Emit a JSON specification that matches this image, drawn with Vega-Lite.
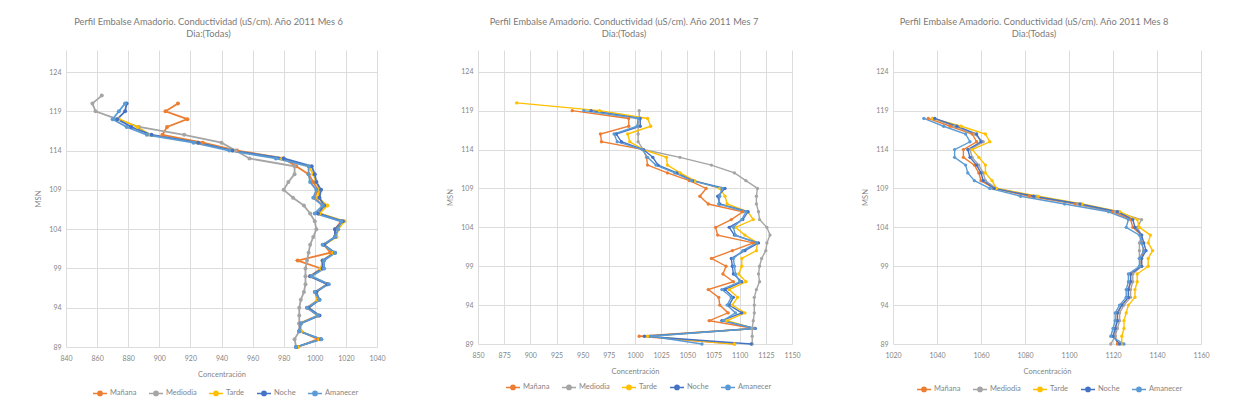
{
  "$schema": "https://vega.github.io/schema/vega-lite/v6.json",
  "background": "white",
  "padding": {"left": 34, "top": 18, "right": 4, "bottom": 4},
  "spacing": 60,
  "config": {
    "font": "Lato",
    "view": {"stroke": null},
    "axis": {
      "domain": false,
      "ticks": false,
      "gridColor": "#DCDCDC",
      "gridWidth": 1,
      "labelColor": "#858585",
      "labelFontSize": 7,
      "labelPadding": 5,
      "labelOverlap": false,
      "labelFlush": false,
      "format": "d",
      "titleColor": "#858585",
      "titleFontSize": 7.5,
      "titleFontWeight": "normal",
      "titlePadding": 6
    },
    "axisX": {"labelPadding": 7, "titlePadding": 9},
    "title": {"fontSize": 9.3, "fontWeight": "normal", "color": "#7a7a7a", "lineHeight": 11.5, "offset": 11, "anchor": "middle"},
    "legend": {
      "labelFontSize": 7.5,
      "labelColor": "#858585",
      "symbolType": "M-1,0H1M-0.3,0A0.3,0.3,0,1,1,0.3,0A0.3,0.3,0,1,1,-0.3,0Z",
      "symbolSize": 196,
      "symbolStrokeWidth": 1.5,
      "columnPadding": 9,
      "labelOffset": 2
    }
  },
  "data": {
    "values": [
      {"mes": 6, "serie": "Mañana", "msn": 120, "c": 912},
      {"mes": 6, "serie": "Mañana", "msn": 119, "c": 904},
      {"mes": 6, "serie": "Mañana", "msn": 118, "c": 918},
      {"mes": 6, "serie": "Mañana", "msn": 117, "c": 905},
      {"mes": 6, "serie": "Mañana", "msn": 116, "c": 902},
      {"mes": 6, "serie": "Mañana", "msn": 115, "c": 928},
      {"mes": 6, "serie": "Mañana", "msn": 114, "c": 950},
      {"mes": 6, "serie": "Mañana", "msn": 113, "c": 980},
      {"mes": 6, "serie": "Mañana", "msn": 112, "c": 988},
      {"mes": 6, "serie": "Mañana", "msn": 111, "c": 996},
      {"mes": 6, "serie": "Mañana", "msn": 110, "c": 999},
      {"mes": 6, "serie": "Mañana", "msn": 109, "c": 1002},
      {"mes": 6, "serie": "Mañana", "msn": 108, "c": 1000},
      {"mes": 6, "serie": "Mañana", "msn": 107, "c": 1005},
      {"mes": 6, "serie": "Mañana", "msn": 106, "c": 1003},
      {"mes": 6, "serie": "Mañana", "msn": 105, "c": 1017},
      {"mes": 6, "serie": "Mañana", "msn": 104, "c": 1013},
      {"mes": 6, "serie": "Mañana", "msn": 103, "c": 1013},
      {"mes": 6, "serie": "Mañana", "msn": 102, "c": 1006},
      {"mes": 6, "serie": "Mañana", "msn": 101, "c": 1010},
      {"mes": 6, "serie": "Mañana", "msn": 100, "c": 989},
      {"mes": 6, "serie": "Mañana", "msn": 99, "c": 1004},
      {"mes": 6, "serie": "Mañana", "msn": 98, "c": 997},
      {"mes": 6, "serie": "Mañana", "msn": 97, "c": 1008},
      {"mes": 6, "serie": "Mañana", "msn": 96, "c": 1000},
      {"mes": 6, "serie": "Mañana", "msn": 95, "c": 1002},
      {"mes": 6, "serie": "Mañana", "msn": 94, "c": 995},
      {"mes": 6, "serie": "Mañana", "msn": 93, "c": 1002},
      {"mes": 6, "serie": "Mañana", "msn": 92, "c": 990},
      {"mes": 6, "serie": "Mañana", "msn": 91, "c": 991},
      {"mes": 6, "serie": "Mañana", "msn": 90, "c": 1002},
      {"mes": 6, "serie": "Mañana", "msn": 89, "c": 989},
      {"mes": 6, "serie": "Mediodia", "msn": 121, "c": 863},
      {"mes": 6, "serie": "Mediodia", "msn": 120, "c": 857},
      {"mes": 6, "serie": "Mediodia", "msn": 119, "c": 859},
      {"mes": 6, "serie": "Mediodia", "msn": 118, "c": 873},
      {"mes": 6, "serie": "Mediodia", "msn": 117, "c": 887},
      {"mes": 6, "serie": "Mediodia", "msn": 116, "c": 916},
      {"mes": 6, "serie": "Mediodia", "msn": 115, "c": 940},
      {"mes": 6, "serie": "Mediodia", "msn": 114, "c": 949},
      {"mes": 6, "serie": "Mediodia", "msn": 113, "c": 958},
      {"mes": 6, "serie": "Mediodia", "msn": 112, "c": 987},
      {"mes": 6, "serie": "Mediodia", "msn": 111, "c": 987},
      {"mes": 6, "serie": "Mediodia", "msn": 110, "c": 983},
      {"mes": 6, "serie": "Mediodia", "msn": 109, "c": 980},
      {"mes": 6, "serie": "Mediodia", "msn": 108, "c": 986},
      {"mes": 6, "serie": "Mediodia", "msn": 107, "c": 993},
      {"mes": 6, "serie": "Mediodia", "msn": 106, "c": 997},
      {"mes": 6, "serie": "Mediodia", "msn": 105, "c": 1000},
      {"mes": 6, "serie": "Mediodia", "msn": 104, "c": 1001},
      {"mes": 6, "serie": "Mediodia", "msn": 103, "c": 999},
      {"mes": 6, "serie": "Mediodia", "msn": 102, "c": 997},
      {"mes": 6, "serie": "Mediodia", "msn": 101, "c": 996},
      {"mes": 6, "serie": "Mediodia", "msn": 100, "c": 995},
      {"mes": 6, "serie": "Mediodia", "msn": 99, "c": 994},
      {"mes": 6, "serie": "Mediodia", "msn": 98, "c": 994},
      {"mes": 6, "serie": "Mediodia", "msn": 97, "c": 994},
      {"mes": 6, "serie": "Mediodia", "msn": 96, "c": 993},
      {"mes": 6, "serie": "Mediodia", "msn": 95, "c": 991},
      {"mes": 6, "serie": "Mediodia", "msn": 94, "c": 990},
      {"mes": 6, "serie": "Mediodia", "msn": 93, "c": 990},
      {"mes": 6, "serie": "Mediodia", "msn": 92, "c": 990},
      {"mes": 6, "serie": "Mediodia", "msn": 91, "c": 990},
      {"mes": 6, "serie": "Mediodia", "msn": 90, "c": 987},
      {"mes": 6, "serie": "Mediodia", "msn": 89, "c": 988},
      {"mes": 6, "serie": "Tarde", "msn": 118, "c": 874},
      {"mes": 6, "serie": "Tarde", "msn": 117, "c": 886},
      {"mes": 6, "serie": "Tarde", "msn": 116, "c": 894},
      {"mes": 6, "serie": "Tarde", "msn": 115, "c": 925},
      {"mes": 6, "serie": "Tarde", "msn": 114, "c": 947},
      {"mes": 6, "serie": "Tarde", "msn": 113, "c": 979},
      {"mes": 6, "serie": "Tarde", "msn": 112, "c": 996},
      {"mes": 6, "serie": "Tarde", "msn": 111, "c": 999},
      {"mes": 6, "serie": "Tarde", "msn": 110, "c": 1001},
      {"mes": 6, "serie": "Tarde", "msn": 109, "c": 1003},
      {"mes": 6, "serie": "Tarde", "msn": 108, "c": 1002},
      {"mes": 6, "serie": "Tarde", "msn": 107, "c": 1008},
      {"mes": 6, "serie": "Tarde", "msn": 106, "c": 1003},
      {"mes": 6, "serie": "Tarde", "msn": 105, "c": 1019},
      {"mes": 6, "serie": "Tarde", "msn": 104, "c": 1015},
      {"mes": 6, "serie": "Tarde", "msn": 103, "c": 1014},
      {"mes": 6, "serie": "Tarde", "msn": 102, "c": 1006},
      {"mes": 6, "serie": "Tarde", "msn": 101, "c": 1012},
      {"mes": 6, "serie": "Tarde", "msn": 100, "c": 1005},
      {"mes": 6, "serie": "Tarde", "msn": 99, "c": 1004},
      {"mes": 6, "serie": "Tarde", "msn": 98, "c": 998},
      {"mes": 6, "serie": "Tarde", "msn": 97, "c": 1008},
      {"mes": 6, "serie": "Tarde", "msn": 96, "c": 1001},
      {"mes": 6, "serie": "Tarde", "msn": 95, "c": 1002},
      {"mes": 6, "serie": "Tarde", "msn": 94, "c": 996},
      {"mes": 6, "serie": "Tarde", "msn": 93, "c": 1002},
      {"mes": 6, "serie": "Tarde", "msn": 92, "c": 991},
      {"mes": 6, "serie": "Tarde", "msn": 91, "c": 991},
      {"mes": 6, "serie": "Tarde", "msn": 90, "c": 1003},
      {"mes": 6, "serie": "Tarde", "msn": 89, "c": 989},
      {"mes": 6, "serie": "Noche", "msn": 120, "c": 879},
      {"mes": 6, "serie": "Noche", "msn": 119, "c": 878},
      {"mes": 6, "serie": "Noche", "msn": 118, "c": 873},
      {"mes": 6, "serie": "Noche", "msn": 117, "c": 882},
      {"mes": 6, "serie": "Noche", "msn": 116, "c": 895},
      {"mes": 6, "serie": "Noche", "msn": 115, "c": 925},
      {"mes": 6, "serie": "Noche", "msn": 114, "c": 947},
      {"mes": 6, "serie": "Noche", "msn": 113, "c": 980},
      {"mes": 6, "serie": "Noche", "msn": 112, "c": 998},
      {"mes": 6, "serie": "Noche", "msn": 111, "c": 1000},
      {"mes": 6, "serie": "Noche", "msn": 110, "c": 1001},
      {"mes": 6, "serie": "Noche", "msn": 109, "c": 1004},
      {"mes": 6, "serie": "Noche", "msn": 108, "c": 1003},
      {"mes": 6, "serie": "Noche", "msn": 107, "c": 1006},
      {"mes": 6, "serie": "Noche", "msn": 106, "c": 1002},
      {"mes": 6, "serie": "Noche", "msn": 105, "c": 1018},
      {"mes": 6, "serie": "Noche", "msn": 104, "c": 1013},
      {"mes": 6, "serie": "Noche", "msn": 103, "c": 1013},
      {"mes": 6, "serie": "Noche", "msn": 102, "c": 1006},
      {"mes": 6, "serie": "Noche", "msn": 101, "c": 1013},
      {"mes": 6, "serie": "Noche", "msn": 100, "c": 1005},
      {"mes": 6, "serie": "Noche", "msn": 99, "c": 1005},
      {"mes": 6, "serie": "Noche", "msn": 98, "c": 997},
      {"mes": 6, "serie": "Noche", "msn": 97, "c": 1008},
      {"mes": 6, "serie": "Noche", "msn": 96, "c": 1001},
      {"mes": 6, "serie": "Noche", "msn": 95, "c": 1003},
      {"mes": 6, "serie": "Noche", "msn": 94, "c": 996},
      {"mes": 6, "serie": "Noche", "msn": 93, "c": 1003},
      {"mes": 6, "serie": "Noche", "msn": 92, "c": 991},
      {"mes": 6, "serie": "Noche", "msn": 91, "c": 990},
      {"mes": 6, "serie": "Noche", "msn": 90, "c": 1004},
      {"mes": 6, "serie": "Noche", "msn": 89, "c": 988},
      {"mes": 6, "serie": "Amanecer", "msn": 120, "c": 878},
      {"mes": 6, "serie": "Amanecer", "msn": 119, "c": 874},
      {"mes": 6, "serie": "Amanecer", "msn": 118, "c": 870},
      {"mes": 6, "serie": "Amanecer", "msn": 117, "c": 879},
      {"mes": 6, "serie": "Amanecer", "msn": 116, "c": 892},
      {"mes": 6, "serie": "Amanecer", "msn": 115, "c": 922},
      {"mes": 6, "serie": "Amanecer", "msn": 114, "c": 945},
      {"mes": 6, "serie": "Amanecer", "msn": 113, "c": 975},
      {"mes": 6, "serie": "Amanecer", "msn": 112, "c": 996},
      {"mes": 6, "serie": "Amanecer", "msn": 111, "c": 996},
      {"mes": 6, "serie": "Amanecer", "msn": 110, "c": 997},
      {"mes": 6, "serie": "Amanecer", "msn": 109, "c": 1001},
      {"mes": 6, "serie": "Amanecer", "msn": 108, "c": 999},
      {"mes": 6, "serie": "Amanecer", "msn": 107, "c": 1005},
      {"mes": 6, "serie": "Amanecer", "msn": 106, "c": 1000},
      {"mes": 6, "serie": "Amanecer", "msn": 105, "c": 1017},
      {"mes": 6, "serie": "Amanecer", "msn": 104, "c": 1015},
      {"mes": 6, "serie": "Amanecer", "msn": 103, "c": 1013},
      {"mes": 6, "serie": "Amanecer", "msn": 102, "c": 1005},
      {"mes": 6, "serie": "Amanecer", "msn": 101, "c": 1013},
      {"mes": 6, "serie": "Amanecer", "msn": 100, "c": 1006},
      {"mes": 6, "serie": "Amanecer", "msn": 99, "c": 1006},
      {"mes": 6, "serie": "Amanecer", "msn": 98, "c": 998},
      {"mes": 6, "serie": "Amanecer", "msn": 97, "c": 1009},
      {"mes": 6, "serie": "Amanecer", "msn": 96, "c": 1000},
      {"mes": 6, "serie": "Amanecer", "msn": 95, "c": 1003},
      {"mes": 6, "serie": "Amanecer", "msn": 94, "c": 995},
      {"mes": 6, "serie": "Amanecer", "msn": 93, "c": 1002},
      {"mes": 6, "serie": "Amanecer", "msn": 92, "c": 991},
      {"mes": 6, "serie": "Amanecer", "msn": 91, "c": 990},
      {"mes": 6, "serie": "Amanecer", "msn": 90, "c": 1004},
      {"mes": 6, "serie": "Amanecer", "msn": 89, "c": 988},

      {"mes": 7, "serie": "Mañana", "msn": 119, "c": 940},
      {"mes": 7, "serie": "Mañana", "msn": 118, "c": 994},
      {"mes": 7, "serie": "Mañana", "msn": 117, "c": 994},
      {"mes": 7, "serie": "Mañana", "msn": 116, "c": 967},
      {"mes": 7, "serie": "Mañana", "msn": 115, "c": 968},
      {"mes": 7, "serie": "Mañana", "msn": 114, "c": 1008},
      {"mes": 7, "serie": "Mañana", "msn": 113, "c": 1011},
      {"mes": 7, "serie": "Mañana", "msn": 112, "c": 1012},
      {"mes": 7, "serie": "Mañana", "msn": 111, "c": 1031},
      {"mes": 7, "serie": "Mañana", "msn": 110, "c": 1052},
      {"mes": 7, "serie": "Mañana", "msn": 109, "c": 1068},
      {"mes": 7, "serie": "Mañana", "msn": 108, "c": 1062},
      {"mes": 7, "serie": "Mañana", "msn": 107, "c": 1070},
      {"mes": 7, "serie": "Mañana", "msn": 106, "c": 1103},
      {"mes": 7, "serie": "Mañana", "msn": 105, "c": 1092},
      {"mes": 7, "serie": "Mañana", "msn": 104, "c": 1077},
      {"mes": 7, "serie": "Mañana", "msn": 103, "c": 1079},
      {"mes": 7, "serie": "Mañana", "msn": 102, "c": 1113},
      {"mes": 7, "serie": "Mañana", "msn": 101, "c": 1093},
      {"mes": 7, "serie": "Mañana", "msn": 100, "c": 1073},
      {"mes": 7, "serie": "Mañana", "msn": 99, "c": 1087},
      {"mes": 7, "serie": "Mañana", "msn": 98, "c": 1084},
      {"mes": 7, "serie": "Mañana", "msn": 97, "c": 1094},
      {"mes": 7, "serie": "Mañana", "msn": 96, "c": 1070},
      {"mes": 7, "serie": "Mañana", "msn": 95, "c": 1080},
      {"mes": 7, "serie": "Mañana", "msn": 94, "c": 1081},
      {"mes": 7, "serie": "Mañana", "msn": 93, "c": 1089},
      {"mes": 7, "serie": "Mañana", "msn": 92, "c": 1071},
      {"mes": 7, "serie": "Mañana", "msn": 91, "c": 1114},
      {"mes": 7, "serie": "Mañana", "msn": 90, "c": 1004},
      {"mes": 7, "serie": "Mañana", "msn": 89, "c": 1095},
      {"mes": 7, "serie": "Mediodia", "msn": 119, "c": 1004},
      {"mes": 7, "serie": "Mediodia", "msn": 118, "c": 1004},
      {"mes": 7, "serie": "Mediodia", "msn": 117, "c": 1003},
      {"mes": 7, "serie": "Mediodia", "msn": 116, "c": 1003},
      {"mes": 7, "serie": "Mediodia", "msn": 115, "c": 1003},
      {"mes": 7, "serie": "Mediodia", "msn": 114, "c": 1008},
      {"mes": 7, "serie": "Mediodia", "msn": 113, "c": 1043},
      {"mes": 7, "serie": "Mediodia", "msn": 112, "c": 1073},
      {"mes": 7, "serie": "Mediodia", "msn": 111, "c": 1095},
      {"mes": 7, "serie": "Mediodia", "msn": 110, "c": 1106},
      {"mes": 7, "serie": "Mediodia", "msn": 109, "c": 1117},
      {"mes": 7, "serie": "Mediodia", "msn": 108, "c": 1116},
      {"mes": 7, "serie": "Mediodia", "msn": 107, "c": 1116},
      {"mes": 7, "serie": "Mediodia", "msn": 106, "c": 1118},
      {"mes": 7, "serie": "Mediodia", "msn": 105, "c": 1119},
      {"mes": 7, "serie": "Mediodia", "msn": 104, "c": 1126},
      {"mes": 7, "serie": "Mediodia", "msn": 103, "c": 1129},
      {"mes": 7, "serie": "Mediodia", "msn": 102, "c": 1126},
      {"mes": 7, "serie": "Mediodia", "msn": 101, "c": 1125},
      {"mes": 7, "serie": "Mediodia", "msn": 100, "c": 1121},
      {"mes": 7, "serie": "Mediodia", "msn": 99, "c": 1119},
      {"mes": 7, "serie": "Mediodia", "msn": 98, "c": 1118},
      {"mes": 7, "serie": "Mediodia", "msn": 97, "c": 1119},
      {"mes": 7, "serie": "Mediodia", "msn": 96, "c": 1116},
      {"mes": 7, "serie": "Mediodia", "msn": 95, "c": 1114},
      {"mes": 7, "serie": "Mediodia", "msn": 94, "c": 1114},
      {"mes": 7, "serie": "Mediodia", "msn": 93, "c": 1114},
      {"mes": 7, "serie": "Mediodia", "msn": 92, "c": 1113},
      {"mes": 7, "serie": "Mediodia", "msn": 91, "c": 1112},
      {"mes": 7, "serie": "Mediodia", "msn": 90, "c": 1112},
      {"mes": 7, "serie": "Mediodia", "msn": 89, "c": 1112},
      {"mes": 7, "serie": "Tarde", "msn": 120, "c": 887},
      {"mes": 7, "serie": "Tarde", "msn": 119, "c": 966},
      {"mes": 7, "serie": "Tarde", "msn": 118, "c": 1012},
      {"mes": 7, "serie": "Tarde", "msn": 117, "c": 1015},
      {"mes": 7, "serie": "Tarde", "msn": 116, "c": 993},
      {"mes": 7, "serie": "Tarde", "msn": 115, "c": 995},
      {"mes": 7, "serie": "Tarde", "msn": 114, "c": 1008},
      {"mes": 7, "serie": "Tarde", "msn": 113, "c": 1030},
      {"mes": 7, "serie": "Tarde", "msn": 112, "c": 1031},
      {"mes": 7, "serie": "Tarde", "msn": 111, "c": 1043},
      {"mes": 7, "serie": "Tarde", "msn": 110, "c": 1057},
      {"mes": 7, "serie": "Tarde", "msn": 109, "c": 1081},
      {"mes": 7, "serie": "Tarde", "msn": 108, "c": 1086},
      {"mes": 7, "serie": "Tarde", "msn": 107, "c": 1088},
      {"mes": 7, "serie": "Tarde", "msn": 106, "c": 1108},
      {"mes": 7, "serie": "Tarde", "msn": 105, "c": 1113},
      {"mes": 7, "serie": "Tarde", "msn": 104, "c": 1096},
      {"mes": 7, "serie": "Tarde", "msn": 103, "c": 1105},
      {"mes": 7, "serie": "Tarde", "msn": 102, "c": 1117},
      {"mes": 7, "serie": "Tarde", "msn": 101, "c": 1116},
      {"mes": 7, "serie": "Tarde", "msn": 100, "c": 1102},
      {"mes": 7, "serie": "Tarde", "msn": 99, "c": 1102},
      {"mes": 7, "serie": "Tarde", "msn": 98, "c": 1099},
      {"mes": 7, "serie": "Tarde", "msn": 97, "c": 1106},
      {"mes": 7, "serie": "Tarde", "msn": 96, "c": 1090},
      {"mes": 7, "serie": "Tarde", "msn": 95, "c": 1098},
      {"mes": 7, "serie": "Tarde", "msn": 94, "c": 1093},
      {"mes": 7, "serie": "Tarde", "msn": 93, "c": 1105},
      {"mes": 7, "serie": "Tarde", "msn": 92, "c": 1088},
      {"mes": 7, "serie": "Tarde", "msn": 91, "c": 1114},
      {"mes": 7, "serie": "Tarde", "msn": 90, "c": 1012},
      {"mes": 7, "serie": "Tarde", "msn": 89, "c": 1095},
      {"mes": 7, "serie": "Noche", "msn": 119, "c": 958},
      {"mes": 7, "serie": "Noche", "msn": 118, "c": 1005},
      {"mes": 7, "serie": "Noche", "msn": 117, "c": 1005},
      {"mes": 7, "serie": "Noche", "msn": 116, "c": 982},
      {"mes": 7, "serie": "Noche", "msn": 115, "c": 987},
      {"mes": 7, "serie": "Noche", "msn": 114, "c": 1008},
      {"mes": 7, "serie": "Noche", "msn": 113, "c": 1017},
      {"mes": 7, "serie": "Noche", "msn": 112, "c": 1022},
      {"mes": 7, "serie": "Noche", "msn": 111, "c": 1040},
      {"mes": 7, "serie": "Noche", "msn": 110, "c": 1055},
      {"mes": 7, "serie": "Noche", "msn": 109, "c": 1086},
      {"mes": 7, "serie": "Noche", "msn": 108, "c": 1079},
      {"mes": 7, "serie": "Noche", "msn": 107, "c": 1081},
      {"mes": 7, "serie": "Noche", "msn": 106, "c": 1108},
      {"mes": 7, "serie": "Noche", "msn": 105, "c": 1103},
      {"mes": 7, "serie": "Noche", "msn": 104, "c": 1090},
      {"mes": 7, "serie": "Noche", "msn": 103, "c": 1095},
      {"mes": 7, "serie": "Noche", "msn": 102, "c": 1118},
      {"mes": 7, "serie": "Noche", "msn": 101, "c": 1105},
      {"mes": 7, "serie": "Noche", "msn": 100, "c": 1092},
      {"mes": 7, "serie": "Noche", "msn": 99, "c": 1093},
      {"mes": 7, "serie": "Noche", "msn": 98, "c": 1094},
      {"mes": 7, "serie": "Noche", "msn": 97, "c": 1102},
      {"mes": 7, "serie": "Noche", "msn": 96, "c": 1086},
      {"mes": 7, "serie": "Noche", "msn": 95, "c": 1094},
      {"mes": 7, "serie": "Noche", "msn": 94, "c": 1090},
      {"mes": 7, "serie": "Noche", "msn": 93, "c": 1102},
      {"mes": 7, "serie": "Noche", "msn": 92, "c": 1083},
      {"mes": 7, "serie": "Noche", "msn": 91, "c": 1115},
      {"mes": 7, "serie": "Noche", "msn": 90, "c": 1009},
      {"mes": 7, "serie": "Noche", "msn": 89, "c": 1111},
      {"mes": 7, "serie": "Amanecer", "msn": 119, "c": 951},
      {"mes": 7, "serie": "Amanecer", "msn": 118, "c": 1003},
      {"mes": 7, "serie": "Amanecer", "msn": 117, "c": 1002},
      {"mes": 7, "serie": "Amanecer", "msn": 116, "c": 980},
      {"mes": 7, "serie": "Amanecer", "msn": 115, "c": 983},
      {"mes": 7, "serie": "Amanecer", "msn": 114, "c": 1007},
      {"mes": 7, "serie": "Amanecer", "msn": 113, "c": 1012},
      {"mes": 7, "serie": "Amanecer", "msn": 112, "c": 1020},
      {"mes": 7, "serie": "Amanecer", "msn": 111, "c": 1038},
      {"mes": 7, "serie": "Amanecer", "msn": 110, "c": 1054},
      {"mes": 7, "serie": "Amanecer", "msn": 109, "c": 1083},
      {"mes": 7, "serie": "Amanecer", "msn": 108, "c": 1081},
      {"mes": 7, "serie": "Amanecer", "msn": 107, "c": 1080},
      {"mes": 7, "serie": "Amanecer", "msn": 106, "c": 1106},
      {"mes": 7, "serie": "Amanecer", "msn": 105, "c": 1102},
      {"mes": 7, "serie": "Amanecer", "msn": 104, "c": 1094},
      {"mes": 7, "serie": "Amanecer", "msn": 103, "c": 1096},
      {"mes": 7, "serie": "Amanecer", "msn": 102, "c": 1116},
      {"mes": 7, "serie": "Amanecer", "msn": 101, "c": 1103},
      {"mes": 7, "serie": "Amanecer", "msn": 100, "c": 1094},
      {"mes": 7, "serie": "Amanecer", "msn": 99, "c": 1095},
      {"mes": 7, "serie": "Amanecer", "msn": 98, "c": 1096},
      {"mes": 7, "serie": "Amanecer", "msn": 97, "c": 1100},
      {"mes": 7, "serie": "Amanecer", "msn": 96, "c": 1083},
      {"mes": 7, "serie": "Amanecer", "msn": 95, "c": 1092},
      {"mes": 7, "serie": "Amanecer", "msn": 94, "c": 1088},
      {"mes": 7, "serie": "Amanecer", "msn": 93, "c": 1096},
      {"mes": 7, "serie": "Amanecer", "msn": 92, "c": 1084},
      {"mes": 7, "serie": "Amanecer", "msn": 91, "c": 1114},
      {"mes": 7, "serie": "Amanecer", "msn": 90, "c": 1015},
      {"mes": 7, "serie": "Amanecer", "msn": 89, "c": 1064},

      {"mes": 8, "serie": "Mañana", "msn": 118, "c": 1036},
      {"mes": 8, "serie": "Mañana", "msn": 117, "c": 1046},
      {"mes": 8, "serie": "Mañana", "msn": 116, "c": 1056},
      {"mes": 8, "serie": "Mañana", "msn": 115, "c": 1058},
      {"mes": 8, "serie": "Mañana", "msn": 114, "c": 1052},
      {"mes": 8, "serie": "Mañana", "msn": 113, "c": 1052},
      {"mes": 8, "serie": "Mañana", "msn": 112, "c": 1057},
      {"mes": 8, "serie": "Mañana", "msn": 111, "c": 1059},
      {"mes": 8, "serie": "Mañana", "msn": 110, "c": 1060},
      {"mes": 8, "serie": "Mañana", "msn": 109, "c": 1066},
      {"mes": 8, "serie": "Mañana", "msn": 108, "c": 1082},
      {"mes": 8, "serie": "Mañana", "msn": 107, "c": 1103},
      {"mes": 8, "serie": "Mañana", "msn": 106, "c": 1120},
      {"mes": 8, "serie": "Mañana", "msn": 105, "c": 1128},
      {"mes": 8, "serie": "Mañana", "msn": 104, "c": 1129},
      {"mes": 8, "serie": "Mañana", "msn": 103, "c": 1133},
      {"mes": 8, "serie": "Mañana", "msn": 102, "c": 1133},
      {"mes": 8, "serie": "Mañana", "msn": 101, "c": 1134},
      {"mes": 8, "serie": "Mañana", "msn": 100, "c": 1133},
      {"mes": 8, "serie": "Mañana", "msn": 99, "c": 1133},
      {"mes": 8, "serie": "Mañana", "msn": 98, "c": 1128},
      {"mes": 8, "serie": "Mañana", "msn": 97, "c": 1128},
      {"mes": 8, "serie": "Mañana", "msn": 96, "c": 1127},
      {"mes": 8, "serie": "Mañana", "msn": 95, "c": 1127},
      {"mes": 8, "serie": "Mañana", "msn": 94, "c": 1124},
      {"mes": 8, "serie": "Mañana", "msn": 93, "c": 1122},
      {"mes": 8, "serie": "Mañana", "msn": 92, "c": 1122},
      {"mes": 8, "serie": "Mañana", "msn": 91, "c": 1121},
      {"mes": 8, "serie": "Mañana", "msn": 90, "c": 1121},
      {"mes": 8, "serie": "Mañana", "msn": 89, "c": 1122},
      {"mes": 8, "serie": "Mediodia", "msn": 118, "c": 1038},
      {"mes": 8, "serie": "Mediodia", "msn": 117, "c": 1048},
      {"mes": 8, "serie": "Mediodia", "msn": 116, "c": 1057},
      {"mes": 8, "serie": "Mediodia", "msn": 115, "c": 1061},
      {"mes": 8, "serie": "Mediodia", "msn": 114, "c": 1055},
      {"mes": 8, "serie": "Mediodia", "msn": 113, "c": 1056},
      {"mes": 8, "serie": "Mediodia", "msn": 112, "c": 1059},
      {"mes": 8, "serie": "Mediodia", "msn": 111, "c": 1061},
      {"mes": 8, "serie": "Mediodia", "msn": 110, "c": 1062},
      {"mes": 8, "serie": "Mediodia", "msn": 109, "c": 1067},
      {"mes": 8, "serie": "Mediodia", "msn": 108, "c": 1085},
      {"mes": 8, "serie": "Mediodia", "msn": 107, "c": 1104},
      {"mes": 8, "serie": "Mediodia", "msn": 106, "c": 1121},
      {"mes": 8, "serie": "Mediodia", "msn": 105, "c": 1133},
      {"mes": 8, "serie": "Mediodia", "msn": 104, "c": 1131},
      {"mes": 8, "serie": "Mediodia", "msn": 103, "c": 1133},
      {"mes": 8, "serie": "Mediodia", "msn": 102, "c": 1132},
      {"mes": 8, "serie": "Mediodia", "msn": 101, "c": 1132},
      {"mes": 8, "serie": "Mediodia", "msn": 100, "c": 1132},
      {"mes": 8, "serie": "Mediodia", "msn": 99, "c": 1133},
      {"mes": 8, "serie": "Mediodia", "msn": 98, "c": 1129},
      {"mes": 8, "serie": "Mediodia", "msn": 97, "c": 1129},
      {"mes": 8, "serie": "Mediodia", "msn": 96, "c": 1128},
      {"mes": 8, "serie": "Mediodia", "msn": 95, "c": 1128},
      {"mes": 8, "serie": "Mediodia", "msn": 94, "c": 1125},
      {"mes": 8, "serie": "Mediodia", "msn": 93, "c": 1123},
      {"mes": 8, "serie": "Mediodia", "msn": 92, "c": 1123},
      {"mes": 8, "serie": "Mediodia", "msn": 91, "c": 1122},
      {"mes": 8, "serie": "Mediodia", "msn": 90, "c": 1121},
      {"mes": 8, "serie": "Mediodia", "msn": 89, "c": 1119},
      {"mes": 8, "serie": "Tarde", "msn": 118, "c": 1038},
      {"mes": 8, "serie": "Tarde", "msn": 117, "c": 1051},
      {"mes": 8, "serie": "Tarde", "msn": 116, "c": 1062},
      {"mes": 8, "serie": "Tarde", "msn": 115, "c": 1064},
      {"mes": 8, "serie": "Tarde", "msn": 114, "c": 1056},
      {"mes": 8, "serie": "Tarde", "msn": 113, "c": 1059},
      {"mes": 8, "serie": "Tarde", "msn": 112, "c": 1062},
      {"mes": 8, "serie": "Tarde", "msn": 111, "c": 1062},
      {"mes": 8, "serie": "Tarde", "msn": 110, "c": 1065},
      {"mes": 8, "serie": "Tarde", "msn": 109, "c": 1067},
      {"mes": 8, "serie": "Tarde", "msn": 108, "c": 1086},
      {"mes": 8, "serie": "Tarde", "msn": 107, "c": 1106},
      {"mes": 8, "serie": "Tarde", "msn": 106, "c": 1123},
      {"mes": 8, "serie": "Tarde", "msn": 105, "c": 1131},
      {"mes": 8, "serie": "Tarde", "msn": 104, "c": 1132},
      {"mes": 8, "serie": "Tarde", "msn": 103, "c": 1137},
      {"mes": 8, "serie": "Tarde", "msn": 102, "c": 1136},
      {"mes": 8, "serie": "Tarde", "msn": 101, "c": 1138},
      {"mes": 8, "serie": "Tarde", "msn": 100, "c": 1136},
      {"mes": 8, "serie": "Tarde", "msn": 99, "c": 1136},
      {"mes": 8, "serie": "Tarde", "msn": 98, "c": 1131},
      {"mes": 8, "serie": "Tarde", "msn": 97, "c": 1131},
      {"mes": 8, "serie": "Tarde", "msn": 96, "c": 1130},
      {"mes": 8, "serie": "Tarde", "msn": 95, "c": 1130},
      {"mes": 8, "serie": "Tarde", "msn": 94, "c": 1127},
      {"mes": 8, "serie": "Tarde", "msn": 93, "c": 1126},
      {"mes": 8, "serie": "Tarde", "msn": 92, "c": 1125},
      {"mes": 8, "serie": "Tarde", "msn": 91, "c": 1125},
      {"mes": 8, "serie": "Tarde", "msn": 90, "c": 1124},
      {"mes": 8, "serie": "Tarde", "msn": 89, "c": 1124},
      {"mes": 8, "serie": "Noche", "msn": 118, "c": 1039},
      {"mes": 8, "serie": "Noche", "msn": 117, "c": 1049},
      {"mes": 8, "serie": "Noche", "msn": 116, "c": 1058},
      {"mes": 8, "serie": "Noche", "msn": 115, "c": 1060},
      {"mes": 8, "serie": "Noche", "msn": 114, "c": 1054},
      {"mes": 8, "serie": "Noche", "msn": 113, "c": 1055},
      {"mes": 8, "serie": "Noche", "msn": 112, "c": 1058},
      {"mes": 8, "serie": "Noche", "msn": 111, "c": 1060},
      {"mes": 8, "serie": "Noche", "msn": 110, "c": 1061},
      {"mes": 8, "serie": "Noche", "msn": 109, "c": 1066},
      {"mes": 8, "serie": "Noche", "msn": 108, "c": 1084},
      {"mes": 8, "serie": "Noche", "msn": 107, "c": 1105},
      {"mes": 8, "serie": "Noche", "msn": 106, "c": 1122},
      {"mes": 8, "serie": "Noche", "msn": 105, "c": 1129},
      {"mes": 8, "serie": "Noche", "msn": 104, "c": 1130},
      {"mes": 8, "serie": "Noche", "msn": 103, "c": 1133},
      {"mes": 8, "serie": "Noche", "msn": 102, "c": 1134},
      {"mes": 8, "serie": "Noche", "msn": 101, "c": 1135},
      {"mes": 8, "serie": "Noche", "msn": 100, "c": 1133},
      {"mes": 8, "serie": "Noche", "msn": 99, "c": 1133},
      {"mes": 8, "serie": "Noche", "msn": 98, "c": 1128},
      {"mes": 8, "serie": "Noche", "msn": 97, "c": 1128},
      {"mes": 8, "serie": "Noche", "msn": 96, "c": 1127},
      {"mes": 8, "serie": "Noche", "msn": 95, "c": 1127},
      {"mes": 8, "serie": "Noche", "msn": 94, "c": 1124},
      {"mes": 8, "serie": "Noche", "msn": 93, "c": 1122},
      {"mes": 8, "serie": "Noche", "msn": 92, "c": 1122},
      {"mes": 8, "serie": "Noche", "msn": 91, "c": 1121},
      {"mes": 8, "serie": "Noche", "msn": 90, "c": 1120},
      {"mes": 8, "serie": "Noche", "msn": 89, "c": 1123},
      {"mes": 8, "serie": "Amanecer", "msn": 118, "c": 1034},
      {"mes": 8, "serie": "Amanecer", "msn": 117, "c": 1043},
      {"mes": 8, "serie": "Amanecer", "msn": 116, "c": 1053},
      {"mes": 8, "serie": "Amanecer", "msn": 115, "c": 1055},
      {"mes": 8, "serie": "Amanecer", "msn": 114, "c": 1048},
      {"mes": 8, "serie": "Amanecer", "msn": 113, "c": 1048},
      {"mes": 8, "serie": "Amanecer", "msn": 112, "c": 1053},
      {"mes": 8, "serie": "Amanecer", "msn": 111, "c": 1054},
      {"mes": 8, "serie": "Amanecer", "msn": 110, "c": 1057},
      {"mes": 8, "serie": "Amanecer", "msn": 109, "c": 1064},
      {"mes": 8, "serie": "Amanecer", "msn": 108, "c": 1078},
      {"mes": 8, "serie": "Amanecer", "msn": 107, "c": 1098},
      {"mes": 8, "serie": "Amanecer", "msn": 106, "c": 1118},
      {"mes": 8, "serie": "Amanecer", "msn": 105, "c": 1127},
      {"mes": 8, "serie": "Amanecer", "msn": 104, "c": 1126},
      {"mes": 8, "serie": "Amanecer", "msn": 103, "c": 1132},
      {"mes": 8, "serie": "Amanecer", "msn": 102, "c": 1133},
      {"mes": 8, "serie": "Amanecer", "msn": 101, "c": 1134},
      {"mes": 8, "serie": "Amanecer", "msn": 100, "c": 1132},
      {"mes": 8, "serie": "Amanecer", "msn": 99, "c": 1132},
      {"mes": 8, "serie": "Amanecer", "msn": 98, "c": 1127},
      {"mes": 8, "serie": "Amanecer", "msn": 97, "c": 1127},
      {"mes": 8, "serie": "Amanecer", "msn": 96, "c": 1126},
      {"mes": 8, "serie": "Amanecer", "msn": 95, "c": 1126},
      {"mes": 8, "serie": "Amanecer", "msn": 94, "c": 1123},
      {"mes": 8, "serie": "Amanecer", "msn": 93, "c": 1121},
      {"mes": 8, "serie": "Amanecer", "msn": 92, "c": 1121},
      {"mes": 8, "serie": "Amanecer", "msn": 91, "c": 1120},
      {"mes": 8, "serie": "Amanecer", "msn": 90, "c": 1119},
      {"mes": 8, "serie": "Amanecer", "msn": 89, "c": 1125}
    ]
  },
  "resolve": {
    "scale": {"x": "independent", "y": "independent"},
    "legend": {"color": "independent"}
  },
  "hconcat": [
    {
      "width": 311,
      "height": 297,
      "transform": [{"filter": "datum.mes == 6"}],
      "title": {"text": ["Perfil Embalse Amadorio. Conductividad (uS/cm). Año 2011 Mes 6", "Dia:(Todas)"], "dx": -13},
      "mark": {"type": "line", "strokeWidth": 1.8, "point": {"filled": true, "size": 16}},
      "encoding": {
        "x": {"field": "c", "type": "quantitative", "scale": {"domain": [840, 1040], "nice": false, "zero": false},
              "axis": {"values": [840, 860, 880, 900, 920, 940, 960, 980, 1000, 1020, 1040], "title": "Concentración"}},
        "y": {"field": "msn", "type": "quantitative", "scale": {"domain": [89, 126.8], "nice": false, "zero": false},
              "axis": {"values": [89, 94, 99, 104, 109, 114, 119, 124], "title": "MSN"}},
        "color": {"field": "serie", "type": "nominal",
                  "scale": {"domain": ["Mañana", "Mediodia", "Tarde", "Noche", "Amanecer"], "range": ["#ED7D31", "#A5A5A5", "#FFC000", "#4472C4", "#5B9BD5"]},
                  "legend": {"title": null, "orient": "none", "direction": "horizontal", "legendX": 26, "legendY": 335,
                             "encode": {"symbols": {"update": {"fill": {"scale": "color", "field": "value"}, "stroke": {"scale": "color", "field": "value"}, "strokeWidth": {"value": 1.5}, "opacity": {"value": 1}}}}}},
        "order": {"field": "msn", "type": "quantitative"}
      }
    },
    {
      "width": 314,
      "height": 294,
      "transform": [{"filter": "datum.mes == 7"}],
      "title": {"text": ["Perfil Embalse Amadorio. Conductividad (uS/cm). Año 2011 Mes 7", "Dia:(Todas)"], "dx": -11},
      "mark": {"type": "line", "strokeWidth": 1.4, "point": {"filled": true, "size": 11}},
      "encoding": {
        "x": {"field": "c", "type": "quantitative", "scale": {"domain": [850, 1150], "nice": false, "zero": false},
              "axis": {"values": [850, 875, 900, 925, 950, 975, 1000, 1025, 1050, 1075, 1100, 1125, 1150], "title": "Concentración"}},
        "y": {"field": "msn", "type": "quantitative", "scale": {"domain": [89, 126.8], "nice": false, "zero": false},
              "axis": {"values": [89, 94, 99, 104, 109, 114, 119, 124], "title": "MSN"}},
        "color": {"field": "serie", "type": "nominal",
                  "scale": {"domain": ["Mañana", "Mediodia", "Tarde", "Noche", "Amanecer"], "range": ["#ED7D31", "#A5A5A5", "#FFC000", "#4472C4", "#5B9BD5"]},
                  "legend": {"title": null, "orient": "none", "direction": "horizontal", "legendX": 27, "legendY": 329,
                             "encode": {"symbols": {"update": {"fill": {"scale": "color", "field": "value"}, "stroke": {"scale": "color", "field": "value"}, "strokeWidth": {"value": 1.5}, "opacity": {"value": 1}}}}}},
        "order": {"field": "msn", "type": "quantitative"}
      }
    },
    {
      "width": 308,
      "height": 294,
      "transform": [{"filter": "datum.mes == 8"}],
      "title": {"text": ["Perfil Embalse Amadorio. Conductividad (uS/cm). Año 2011 Mes 8", "Dia:(Todas)"], "dx": -13},
      "mark": {"type": "line", "strokeWidth": 1.4, "point": {"filled": true, "size": 11}},
      "encoding": {
        "x": {"field": "c", "type": "quantitative", "scale": {"domain": [1020, 1160], "nice": false, "zero": false},
              "axis": {"values": [1020, 1040, 1060, 1080, 1100, 1120, 1140, 1160], "title": "Concentración"}},
        "y": {"field": "msn", "type": "quantitative", "scale": {"domain": [89, 126.8], "nice": false, "zero": false},
              "axis": {"values": [89, 94, 99, 104, 109, 114, 119, 124], "title": "MSN"}},
        "color": {"field": "serie", "type": "nominal",
                  "scale": {"domain": ["Mañana", "Mediodia", "Tarde", "Noche", "Amanecer"], "range": ["#ED7D31", "#A5A5A5", "#FFC000", "#4472C4", "#5B9BD5"]},
                  "legend": {"title": null, "orient": "none", "direction": "horizontal", "legendX": 23, "legendY": 331,
                             "encode": {"symbols": {"update": {"fill": {"scale": "color", "field": "value"}, "stroke": {"scale": "color", "field": "value"}, "strokeWidth": {"value": 1.5}, "opacity": {"value": 1}}}}}},
        "order": {"field": "msn", "type": "quantitative"}
      }
    }
  ]
}
